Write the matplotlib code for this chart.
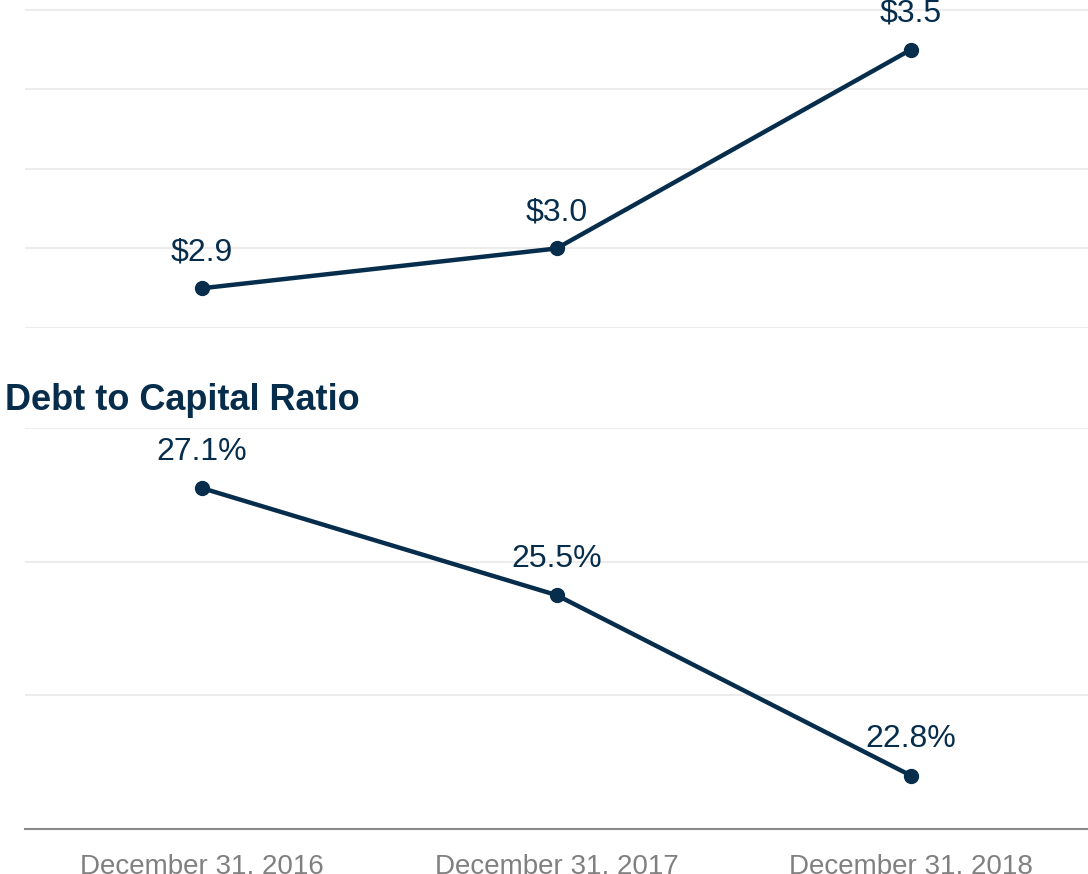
#!/usr/bin/env python3
import matplotlib
matplotlib.use('Agg')
import matplotlib.pyplot as plt

# data
dates = ['December 31, 2016', 'December 31, 2017', 'December 31, 2018']
debt = [2.9, 3.0, 3.5]
debt_labels = ['$2.9', '$3.0', '$3.5']
ratio = [27.1, 25.5, 22.8]
ratio_labels = ['27.1%', '25.5%', '22.8%']

navy = '#062d4c'
grid = '#ececec'

plt.rcParams['font.family'] = ['Liberation Sans', 'DejaVu Sans']

W, H = 1088, 874
fig = plt.figure(figsize=(W / 100, H / 100), dpi=100)

# axes placed in pixel terms to match the reference layout
def px_axes(left, top, right, bottom):
	return fig.add_axes([left / W, 1 - bottom / H, (right - left) / W, (bottom - top) / H])

ax1 = px_axes(25, 0, 1088, 328)
ax2 = px_axes(25, 428, 1088, 829)

def style(ax, ticks, ylim):
	ax.set_xlim(-0.5, 2.5)
	ax.set_ylim(*ylim)
	ax.set_yticks(ticks)
	ax.yaxis.grid(True, color=grid, lw=1.5)
	ax.set_axisbelow(True)
	ax.tick_params(left=False, labelleft=False, bottom=False)
	for s in ax.spines.values():
		s.set_visible(False)

x = range(len(dates))

style(ax1, [2.8, 3.0, 3.2, 3.4, 3.6], (2.8, 3.625))
ax1.plot(x, debt, color=navy, lw=3.2, marker='o', ms=10, clip_on=False, zorder=3)
ax1.set_xticks(list(x))
ax1.tick_params(labelbottom=False)
for xi, v, lab in zip(x, debt, debt_labels):
	ax1.annotate(lab, (xi, v), xytext=(0, 26), textcoords='offset points',
		ha='center', va='center', fontsize=23, color=navy, annotation_clip=False)

style(ax2, [22, 24, 26, 28], (22, 28))
ax2.spines['bottom'].set_visible(True)
ax2.spines['bottom'].set_color('#8a8a8a')
ax2.spines['bottom'].set_linewidth(1.5)
ax2.plot(x, ratio, color=navy, lw=3.2, marker='o', ms=10, clip_on=False, zorder=3)
ax2.set_xticks(list(x))
ax2.set_xticklabels(dates, fontsize=20, color='#808080')
ax2.tick_params(axis='x', pad=14)
for xi, v, lab in zip(x, ratio, ratio_labels):
	ax2.annotate(lab, (xi, v), xytext=(0, 26), textcoords='offset points',
		ha='center', va='center', fontsize=23, color=navy, annotation_clip=False)

fig.text(5 / W, 1 - 401 / H, 'Debt to Capital Ratio', fontsize=26, fontweight='bold',
	color=navy, ha='left', va='center')

fig.savefig('out.png', dpi=100, facecolor='white')
